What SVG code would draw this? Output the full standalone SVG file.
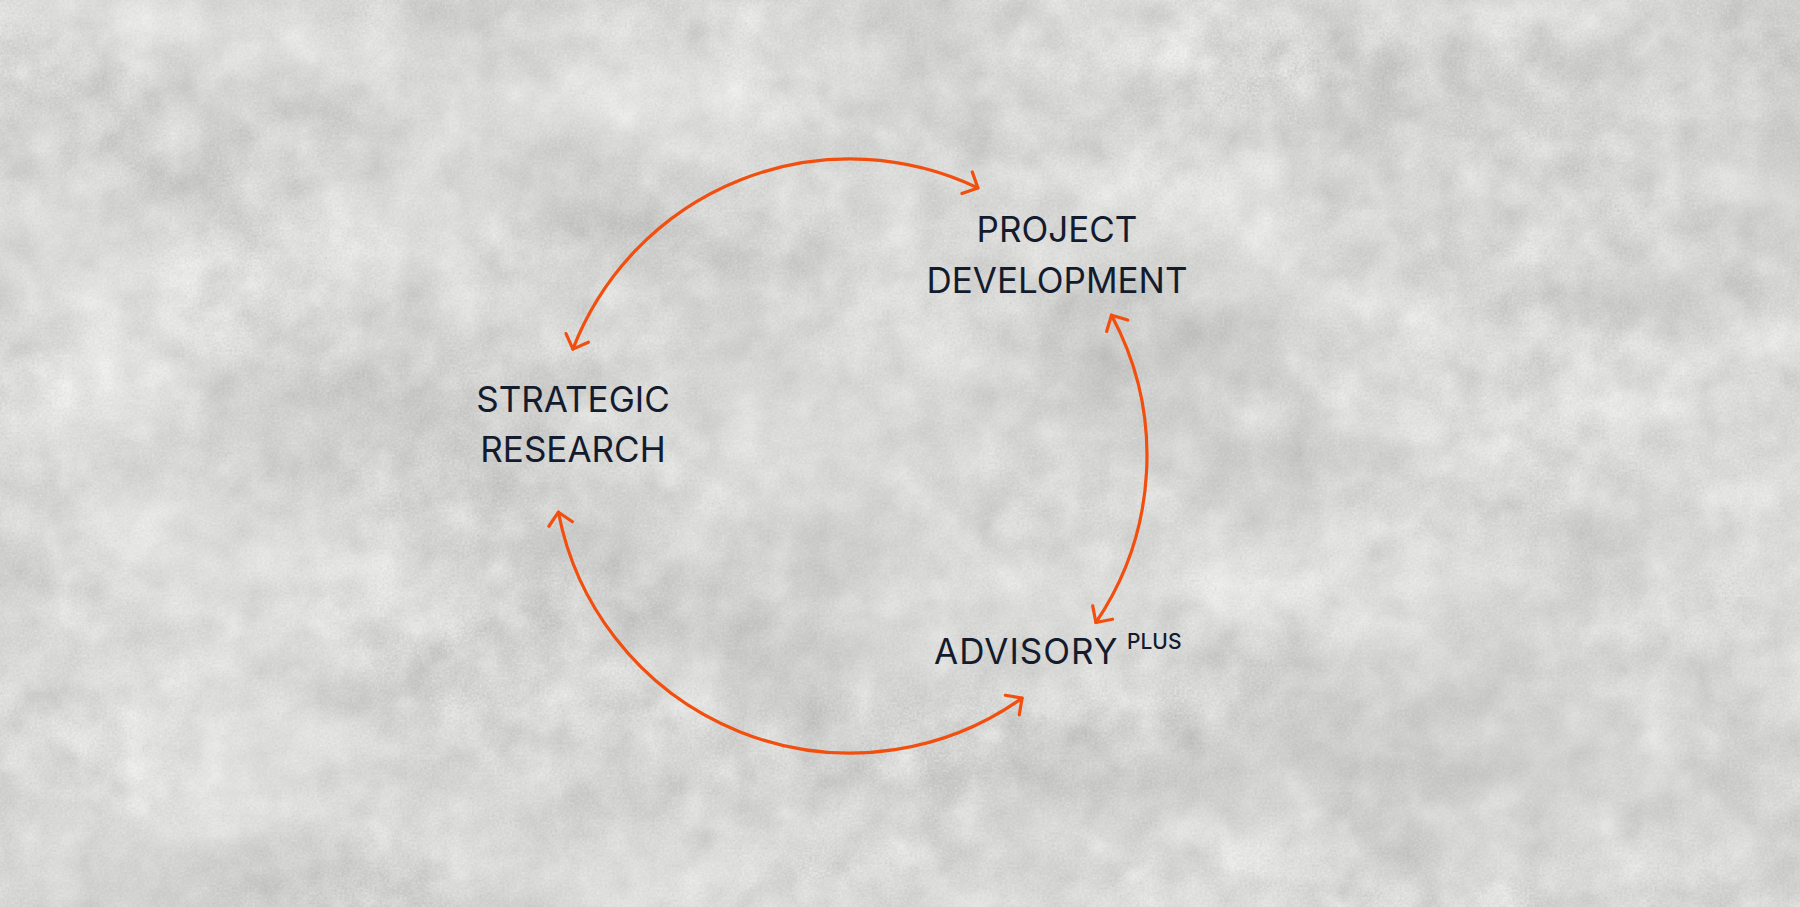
<svg xmlns="http://www.w3.org/2000/svg" width="1800" height="907" viewBox="0 0 1800 907">
  <defs>
    <filter id="tex" x="0" y="0" width="100%" height="100%" color-interpolation-filters="sRGB">
      <feTurbulence type="fractalNoise" baseFrequency="0.003 0.006" numOctaves="3" seed="7" result="big"/>
      <feTurbulence type="fractalNoise" baseFrequency="0.025" numOctaves="3" seed="4" result="mid"/>
      <feTurbulence type="fractalNoise" baseFrequency="0.4" numOctaves="2" seed="2" result="fine"/>
      <feComposite in="big" in2="mid" operator="arithmetic" k1="0" k2="0.6" k3="0.4" k4="0" result="bm"/>
      <feComposite in="bm" in2="fine" operator="arithmetic" k1="0" k2="0.8" k3="0.2" k4="0" result="mix"/>
      <feColorMatrix in="mix" type="matrix" values="0.4 0 0 0 0.64  0.4 0 0 0 0.64  0.4 0 0 0 0.635  0 0 0 0 1"/>
    </filter>
    <marker id="chev" viewBox="-16 -16 20 32" markerWidth="20" markerHeight="32" refX="0" refY="0" markerUnits="userSpaceOnUse" orient="auto-start-reverse">
      <path d="M-12,-12 L0,0 L-12,12" fill="none" stroke="#F24E0E" stroke-width="3.2" stroke-linecap="round" stroke-linejoin="round"/>
    </marker>
    <style>
      .lbl { font-family: Inter, "Noto Sans", "Liberation Sans", sans-serif; font-size: 35px; fill: #141B2D; text-anchor: middle; }
      .sup { font-family: Inter, "Noto Sans", "Liberation Sans", sans-serif; font-size: 21px; fill: #141B2D; font-weight: 500; }
      .arc { fill: none; stroke: #F24E0E; stroke-width: 3.2; stroke-linecap: round; marker-start: url(#chev); marker-end: url(#chev); }
    </style>
  </defs>
  <rect width="1800" height="907" fill="#d6d6d4"/>
  <rect width="1800" height="907" filter="url(#tex)"/>
  <g id="connectors">
    <path class="arc" d="M572.9,349.1 A297,297 0 0 1 977.9,187.9"/>
    <path class="arc" d="M1111.5,315.2 A297,297 0 0 1 1095.9,622.5"/>
    <path class="arc" d="M1022.1,698.1 A297,297 0 0 1 558.4,512.2"/>
  </g>
  <g id="project-development">
    <text class="lbl" x="1057" y="242">PROJECT</text>
    <text class="lbl" x="1057" y="293">DEVELOPMENT</text>
  </g>
  <g id="strategic-research">
    <text class="lbl" x="573" y="412">STRATEGIC</text>
    <text class="lbl" x="573" y="462">RESEARCH</text>
  </g>
  <g id="advisory-plus">
    <text class="lbl" x="934" y="664" style="text-anchor:start; letter-spacing:1px">ADVISORY</text>
    <text class="sup" x="1127" y="649">PLUS</text>
  </g>
</svg>
